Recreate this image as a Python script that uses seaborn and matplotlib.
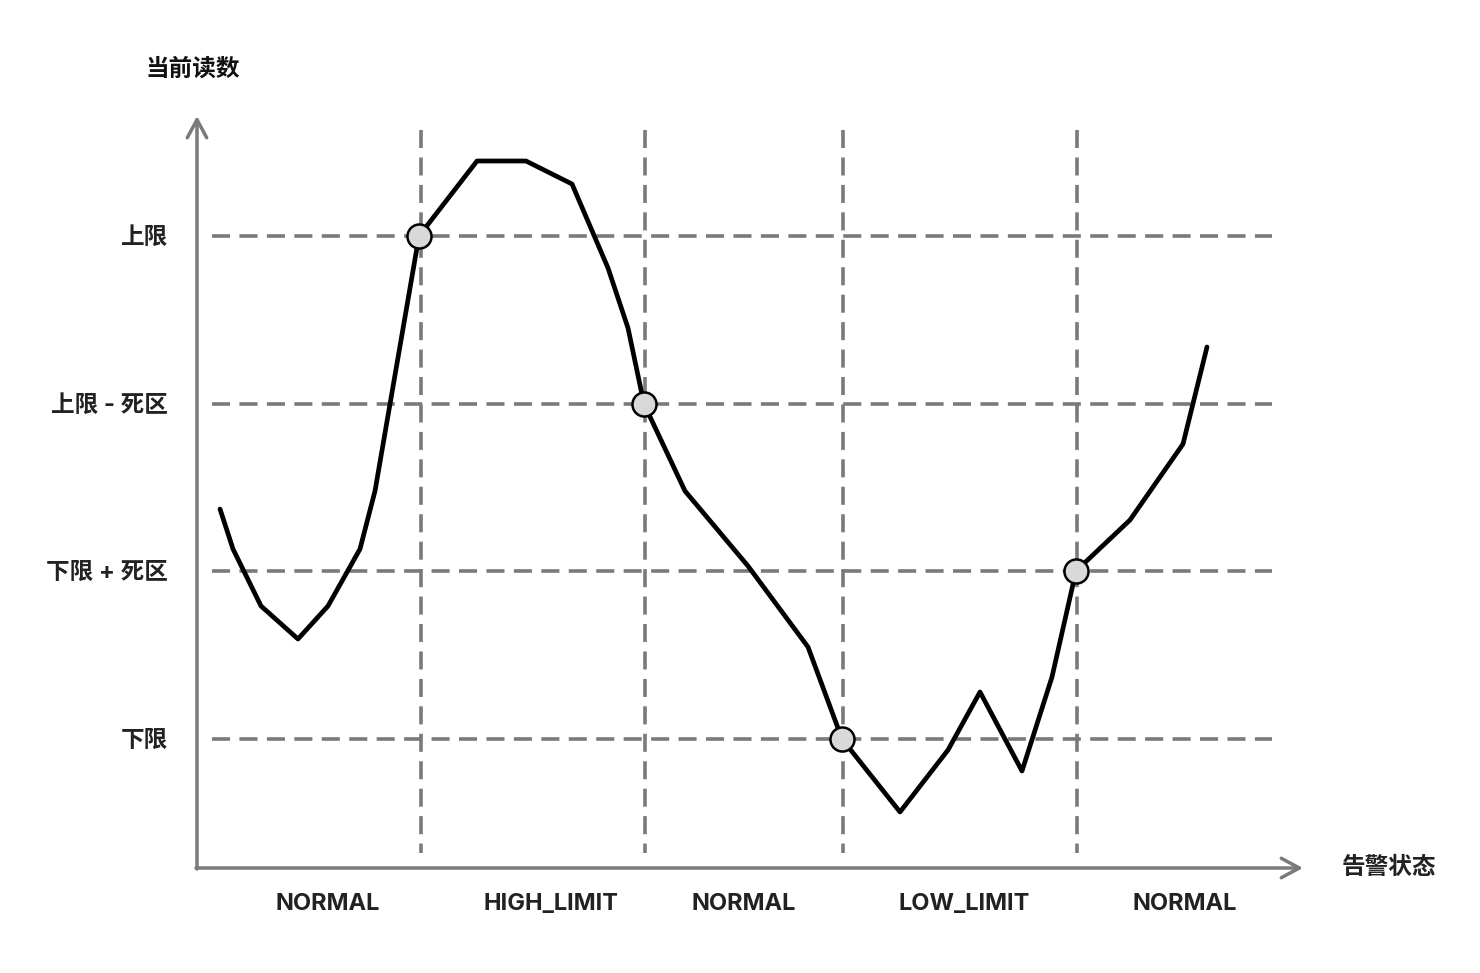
import matplotlib
matplotlib.use("Agg")
import matplotlib.pyplot as plt
import seaborn as sns
import pandas as pd

# ---- data (pixel-like coordinate units, y grows downward) ----
curve_x = [220, 233, 261, 298, 328, 360, 375, 419, 477, 526, 572, 608, 628, 644,
           685, 748, 808, 842, 900, 948, 980, 1022, 1052, 1076, 1130, 1183, 1207]
curve_y = [509, 549, 606, 639, 606, 549, 491, 236, 161, 161, 184, 268, 328, 404,
           491, 566, 647, 739, 812, 750, 692, 771, 677, 571, 520, 444, 347]

cross_x = [419, 644, 842, 1076]
cross_y = [236, 404, 739, 571]

threshold_labels = ["上限", "上限 - 死区", "下限 + 死区", "下限"]
threshold_y = [236, 404, 571, 739]

boundary_x = [421, 645, 843, 1077]

state_labels = ["NORMAL", "HIGH_LIMIT", "NORMAL", "LOW_LIMIT", "NORMAL"]
state_x = [328, 551, 744, 964, 1185]

y_title = "当前读数"
x_title = "告警状态"

# ---- style ----
sns.set_style("white")
plt.rcParams["font.family"] = ["Inter", "Noto Sans CJK SC", "DejaVu Sans"]
FONT = ["Inter", "Noto Sans CJK SC", "DejaVu Sans"]

fig = plt.figure(figsize=(14.8, 9.73), dpi=100)
ax = fig.add_axes([0, 0, 1, 1])

GRAY = "#7a7a7a"
dash_kw = dict(color=GRAY, lw=2.6, dashes=(5.0, 2.6))

# horizontal threshold lines
for yv in threshold_y:
    ax.plot([212, 1272], [yv, yv], **dash_kw, zorder=1)
# vertical state boundaries
for xv in boundary_x:
    ax.plot([xv, xv], [130, 853], **dash_kw, zorder=1)

# axes with arrows
arrow_style = "->,head_length=1.3,head_width=0.7"
ax.annotate("", xy=(197, 116), xytext=(197, 869),
            arrowprops=dict(arrowstyle=arrow_style, color=GRAY, lw=2.5,
                            shrinkA=0, shrinkB=0))
ax.annotate("", xy=(1303, 868), xytext=(196, 868),
            arrowprops=dict(arrowstyle=arrow_style, color=GRAY, lw=2.5,
                            shrinkA=0, shrinkB=0))

# curve
df = pd.DataFrame({"x": curve_x, "y": curve_y})
sns.lineplot(data=df, x="x", y="y", ax=ax, sort=False, estimator=None,
             color="black", lw=3.4, zorder=3)

# crossing markers
dfc = pd.DataFrame({"x": cross_x, "y": cross_y})
sns.scatterplot(data=dfc, x="x", y="y", ax=ax, s=300, color="#d9d9d9",
                edgecolor="black", linewidth=1.8, zorder=4)

ax.set_xlim(0, 1480)
ax.set_ylim(973, 0)
ax.axis("off")

# labels
for lab, yv in zip(threshold_labels, threshold_y):
    ax.text(168, yv + 2, lab, ha="right", va="center", fontsize=17,
            fontweight="bold", color="#222222", family=FONT)
for lab, xv in zip(state_labels, state_x):
    ax.text(xv, 904, lab, ha="center", va="center", fontsize=17,
            fontweight="bold", color="#222222", family=FONT)

ax.text(193, 70, y_title, ha="center", va="center", fontsize=17,
        fontweight="bold", color="#111111", family=FONT)
ax.text(1389, 868, x_title, ha="center", va="center", fontsize=17,
        fontweight="bold", color="#222222", family=FONT)

fig.savefig("out.png", dpi=100)
